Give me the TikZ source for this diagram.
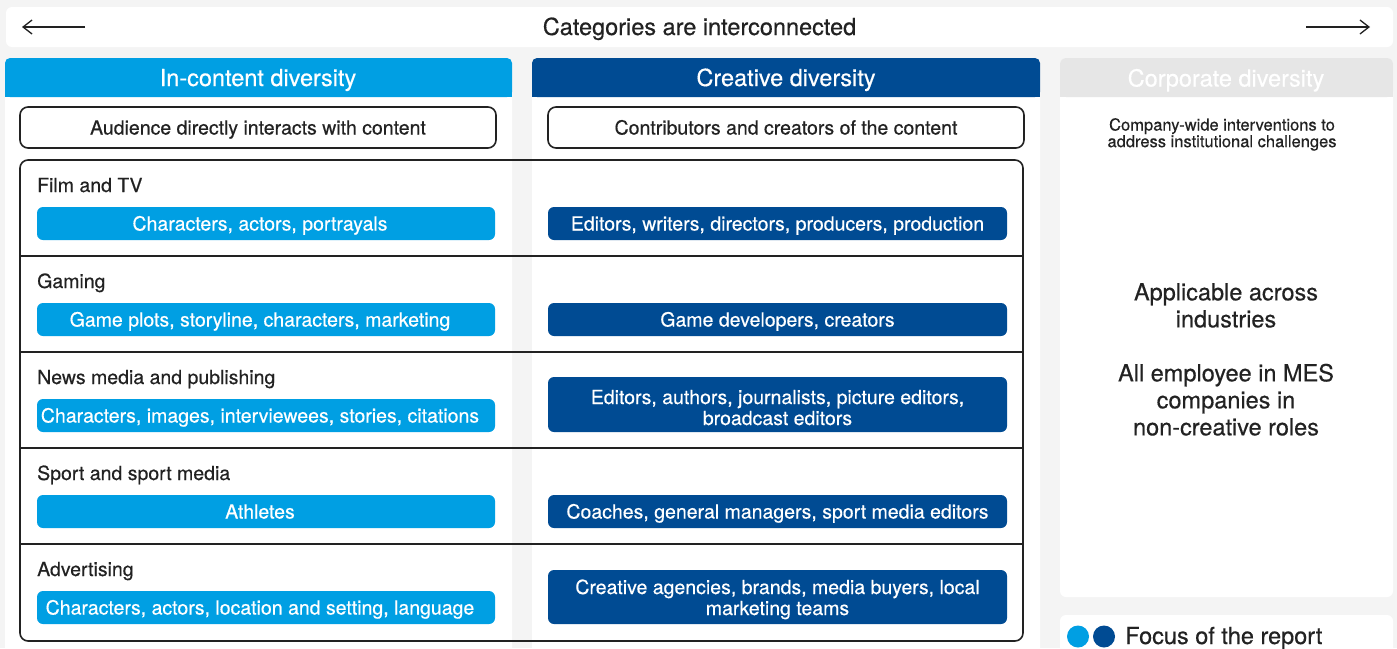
\documentclass[tikz,border=0pt]{standalone}
\usepackage{fontspec}
\setmainfont{TeX Gyre Heros}[FakeBold=0.4]
\usepackage{xcolor}
\usepackage{tikz}
\usetikzlibrary{arrows.meta}

\definecolor{cPage}{HTML}{F4F4F4}
\definecolor{cInContent}{HTML}{009FE3}
\definecolor{cCreative}{HTML}{004B93}
\definecolor{cCorporate}{HTML}{E6E6E6}
\definecolor{cInk}{HTML}{222222}

\tikzstyle{tsInk} = [
    text=cInk,
    inner sep=0pt
]
\tikzstyle{tsLarge} = [
    tsInk,
    font=\fontsize{23.5}{27}\selectfont
]
\tikzstyle{tsBody} = [
    tsInk,
    font=\fontsize{19.5}{20.5}\selectfont
]
\tikzstyle{tsSmall} = [
    tsInk,
    font=\fontsize{16.5}{14.5}\selectfont
]
\tikzstyle{tsHeader} = [
    inner sep=0pt,
    text=white,
    font=\fontsize{23.5}{27}\selectfont
]
\tikzstyle{tsBar} = [
    rectangle,
    fill=white,
    rounded corners=6pt,
    minimum width=1387pt,
    minimum height=40pt
]
\tikzstyle{tsOutline} = [
    rectangle,
    tsBody,
    draw=cInk,
    line width=1.6pt,
    rounded corners=8pt,
    minimum width=476pt,
    minimum height=41pt,
    text height=14pt,
    text depth=0pt
]
\tikzstyle{tsFrame} = [
    rectangle,
    draw=cInk,
    line width=1.6pt,
    rounded corners=8pt,
    minimum width=1003pt,
    minimum height=481pt
]
\tikzstyle{tsPill} = [
    rectangle,
    rounded corners=6pt,
    inner sep=0pt,
    text=white,
    align=center,
    font=\fontsize{19.5}{21}\selectfont
]
\tikzstyle{tsPillLight} = [
    tsPill,
    fill=cInContent,
    minimum width=458pt,
    minimum height=33pt,
    text height=14pt,
    text depth=0pt,
    execute at end node=\hspace*{12pt}
]
\tikzstyle{tsPillDark} = [
    tsPill,
    fill=cCreative,
    minimum width=459pt,
    minimum height=33pt,
    text height=14pt,
    text depth=0pt
]
\tikzstyle{tsPillDarkTwo} = [
    tsPillDark,
    text height=41pt
]
\tikzstyle{tsDot} = [
    circle,
    inner sep=0pt,
    minimum size=22pt
]
\tikzstyle{tsArrow} = [
    -{Straight Barb[length=9pt, width=14pt]},
    line width=1.3pt,
    draw=cInk
]

\begin{document}
\begin{tikzpicture}[x=1pt, y=-1pt]
        \useasboundingbox (0,0) rectangle (1397,648);
        \fill[cPage] (0,0) rectangle (1397,648);

        % Top bar
        \node[tsBar] (bar) at (699.5,27) {};
        \node[tsLarge, anchor=base] (title) at (699.5,35) {Categories are interconnected};
        \coordinate (leftStart) at (85,27);
        \coordinate (leftEnd) at (22,27);
        \coordinate (rightStart) at (1306,27);
        \coordinate (rightEnd) at (1370,27);
        \draw[tsArrow] (leftStart) -- (leftEnd);
        \draw[tsArrow] (rightStart) -- (rightEnd);

        % Column panels
        \fill[white, rounded corners=5pt] (5,58) rectangle (512,670);
        \fill[white, rounded corners=5pt] (532,58) rectangle (1040,670);
        \fill[white, rounded corners=6pt] (1060,58) rectangle (1393,597);
        \fill[white, rounded corners=6pt] (1060,615) rectangle (1393,670);

        % Column headers
        \fill[cInContent, rounded corners=5pt] (5,58) rectangle (512,97);
        \fill[cInContent] (5,80) rectangle (512,97);
        \fill[cCreative, rounded corners=5pt] (532,58) rectangle (1040,97);
        \fill[cCreative] (532,80) rectangle (1040,97);
        \fill[cCorporate, rounded corners=6pt] (1060,58) rectangle (1393,97);
        \fill[cCorporate] (1060,80) rectangle (1393,97);
        \node[tsHeader, anchor=base] (hdrIn) at (258,86) {In-content diversity};
        \node[tsHeader, anchor=base] (hdrCreative) at (786,86) {Creative diversity};
        \node[tsHeader, anchor=base] (hdrCorporate) at (1226,86.5) {Corporate diversity};

        % Sub headers
        \node[tsOutline] (audience) at (258,127.5) {Audience directly interacts with content};
        \node[tsOutline] (contributors) at (786,127.5) {Contributors and creators of the content};

        % Industries frame
        \node[tsFrame] (frame) at (521.5,400.5) {};
        \draw[line width=1.2pt, cInk] (frame.west |- 0,256) -- (frame.east |- 0,256);
        \draw[line width=1.2pt, cInk] (frame.west |- 0,352) -- (frame.east |- 0,352);
        \draw[line width=1.2pt, cInk] (frame.west |- 0,448) -- (frame.east |- 0,448);
        \draw[line width=1.2pt, cInk] (frame.west |- 0,544) -- (frame.east |- 0,544);

        % Film and TV
        \node[tsBody, anchor=base west] (film) at (37,192) {Film and TV};
        \node[tsPillLight] (filmIn) at (266,223.5) {Characters, actors, portrayals};
        \node[tsPillDark] (filmCr) at (777.5,223.5) {Editors, writers, directors, producers, production};

        % Gaming
        \node[tsBody, anchor=base west] (gaming) at (37,288) {Gaming};
        \node[tsPillLight] (gamingIn) at (266,319.5) {Game plots, storyline, characters, marketing};
        \node[tsPillDark] (gamingCr) at (777.5,319.5) {Game developers, creators};

        % News media
        \node[tsBody, anchor=base west] (news) at (37,384) {News media and publishing};
        \node[tsPillLight] (newsIn) at (266,415.5) {Characters, images, interviewees, stories, citations};
        \node[tsPillDarkTwo, minimum height=55pt] (newsCr) at (777.5,404.5) {Editors, authors, journalists, picture editors,\\broadcast editors};

        % Sport
        \node[tsBody, anchor=base west] (sport) at (37,480) {Sport and sport media};
        \node[tsPillLight] (sportIn) at (266,511.5) {Athletes};
        \node[tsPillDark] (sportCr) at (777.5,511.5) {Coaches, general managers, sport media editors};

        % Advertising
        \node[tsBody, anchor=base west] (advert) at (37,576) {Advertising};
        \node[tsPillLight] (advertIn) at (266,607.5) {Characters, actors, location and setting, language};
        \node[tsPillDarkTwo, minimum height=54pt, text height=36pt] (advertCr) at (777.5,597) {Creative agencies, brands, media buyers, local\\marketing teams};

        % Corporate column
        \node[tsSmall, align=center, anchor=north] (corpIntro) at (1222,118) {Company-wide interventions to\\address institutional challenges};
        \node[tsLarge, align=center, anchor=north] (corpScope) at (1226,283) {Applicable across\\industries\\[27pt]All employee in MES\\companies in\\non-creative roles};

        % Legend
        \node[tsDot, fill=cInContent] (dotIn) at (1078,636.5) {};
        \node[tsDot, fill=cCreative] (dotCr) at (1104,636.5) {};
        \node[tsLarge, anchor=base west] (legend) at (1125,644) {Focus of the report};

    \end{tikzpicture}
\end{document}
